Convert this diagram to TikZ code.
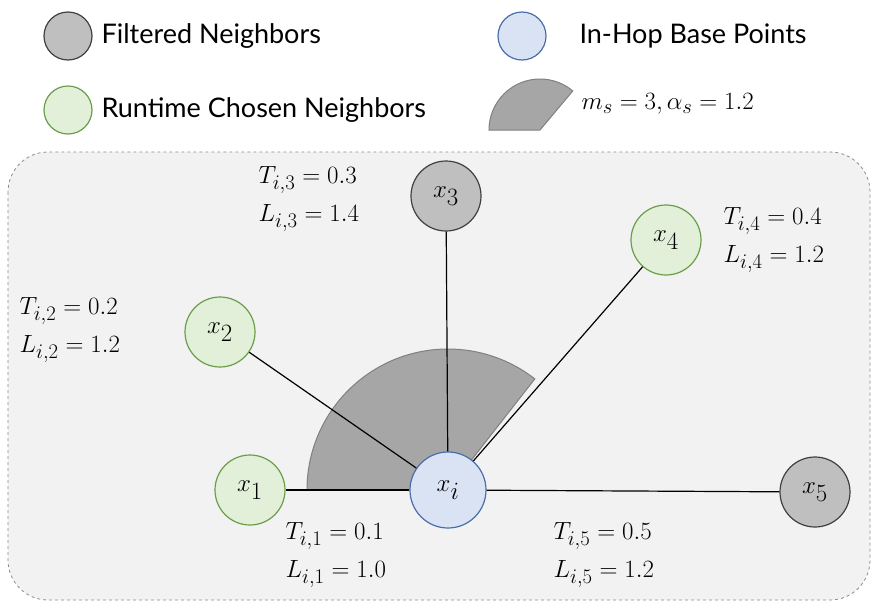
\documentclass[tikz,border=0pt]{standalone}
\usepackage{fontspec}
\setmainfont{Lato}
\definecolor{gfill}{HTML}{E2F0D9}
\definecolor{gdraw}{HTML}{6A9E4A}
\definecolor{bfill}{HTML}{DAE3F3}
\definecolor{bdraw}{HTML}{4A6EA9}
\begin{document}
\begin{tikzpicture}[x=1pt,y=-1pt,
  txt/.style={font=\fontsize{27}{30}\selectfont,anchor=west},
  lab/.style={font=\fontsize{30}{38}\selectfont,align=left,anchor=west},
  filt/.style={circle,draw=black!75,fill=black!25,line width=1.2pt,minimum size=#1},
  run/.style={circle,draw=gdraw,fill=gfill,line width=1.2pt,minimum size=#1},
  base/.style={circle,draw=bdraw,fill=bfill,line width=1.2pt,minimum size=#1},
  sect/.style={fill=black!35,draw=black!50,line width=1pt},
  xl/.style={font=\fontsize{44}{44}\selectfont,inner sep=0pt}]
\useasboundingbox (0,0) rectangle (878,608);
% legend
\node[filt=48pt] (lf) at (68,36) {};
\node[txt] (lft) at (98,36) {Filtered Neighbors};
\node[base=48pt] (lb) at (522,36) {};
\node[txt] (lbt) at (576,36) {In-Hop Base Points};
\node[run=48pt] (lr) at (68,110) {};
\node[txt] (lrt) at (98,110) {Runtime Chosen Neighbors};
\fill[sect] (540,130) -- (489,130) arc[start angle=180,end angle=310,radius=51] -- cycle;
\node[lab] (lst) at (578,104) {$m_s=3,\alpha_s=1.2$};
% panel
\draw[dashed,draw=black!45,fill=black!5,line width=0.8pt,rounded corners=40pt] (8,152) rectangle (870,600);
% sector
\coordinate (c) at (448,490);
\fill[sect] (c) -- (307,490) arc[start angle=180,end angle=308,radius=141] -- cycle;
% nodes
\node[base=76pt,xl] (xi) at (448,490) {$x_i$};
\node[run=70pt,xl] (x1) at (250,490) {$x_1$};
\node[run=70pt,xl] (x2) at (220,332) {$x_2$};
\node[filt=70pt,xl] (x3) at (446,196) {$x_3$};
\node[run=70pt,xl] (x4) at (666,240) {$x_4$};
\node[filt=70pt,xl] (x5) at (815,492) {$x_5$};
\foreach \n in {x1,x2,x3,x4,x5} \draw[line width=1.2pt] (xi) -- (\n);
% labels
\node[lab] (l1) at (282,555) {$T_{i,1}=0.1$\\$L_{i,1}=1.0$};
\node[lab] (l2) at (16,330) {$T_{i,2}=0.2$\\$L_{i,2}=1.2$};
\node[lab] (l3) at (255,199) {$T_{i,3}=0.3$\\$L_{i,3}=1.4$};
\node[lab] (l4) at (720,240) {$T_{i,4}=0.4$\\$L_{i,4}=1.2$};
\node[lab] (l5) at (550,555) {$T_{i,5}=0.5$\\$L_{i,5}=1.2$};
\end{tikzpicture}
\end{document}
